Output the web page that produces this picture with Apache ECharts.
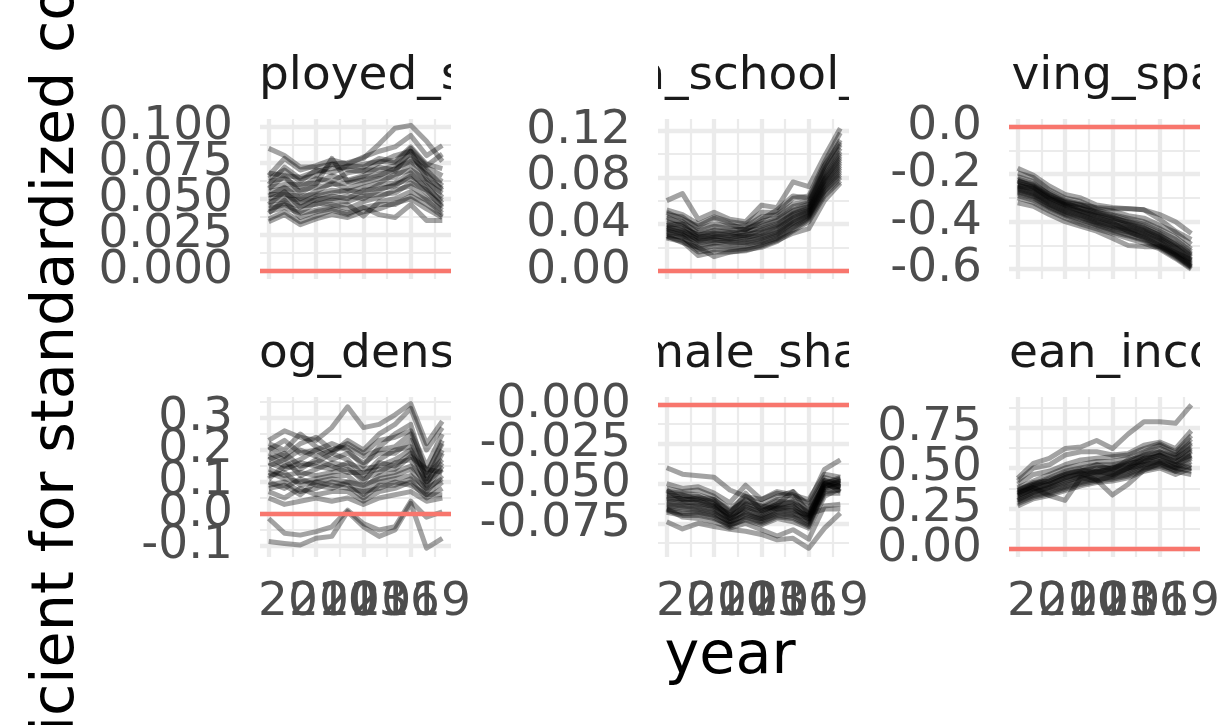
<!DOCTYPE html>
<html><head><meta charset="utf-8">
<script src="https://cdn.jsdelivr.net/npm/echarts@6/dist/echarts.min.js"></script>
<style>html,body{margin:0;padding:0;background:#fff}#c{width:1229px;height:725px}</style>
</head><body><div id="c"></div>
<script>
// ---------------- DATA ----------------
const years = [2008,2009,2010,2011,2012,2013,2014,2015,2016,2017,2018,2019];
const xMajorBreaks = [2008, 2011, 2014, 2017];
const xMinorBreaks = [2009.5, 2012.5, 2015.5, 2018.5];
const xTickValues = [2010, 2013, 2016, 2019];
const xTickLabels = ["2010", "2013", "2016", "2019"];

const panelTitles = ["unemployed_share", "main_school_share", "living_space", "log_density", "female_share", "mean_income"];
const yAxisTitle = "coefficient for standardized covariate";
const xAxisTitle = "year";

const unemployedShare = [
 [0.085,0.080,0.072,0.072,0.074,0.075,0.078,0.088,0.099,0.101,0.090,0.076],
 [0.066,0.078,0.070,0.073,0.077,0.074,0.079,0.083,0.086,0.094,0.080,0.087],
 [0.064,0.070,0.062,0.070,0.068,0.073,0.072,0.078,0.076,0.086,0.074,0.071],
 [0.060,0.072,0.064,0.066,0.074,0.070,0.069,0.075,0.080,0.083,0.072,0.066],
 [0.062,0.064,0.058,0.064,0.062,0.068,0.070,0.070,0.073,0.081,0.068,0.062],
 [0.058,0.060,0.060,0.061,0.066,0.063,0.066,0.072,0.070,0.078,0.070,0.059],
 [0.057,0.066,0.054,0.060,0.078,0.062,0.065,0.067,0.069,0.083,0.064,0.057],
 [0.055,0.057,0.056,0.058,0.060,0.061,0.063,0.066,0.071,0.076,0.067,0.056],
 [0.052,0.058,0.050,0.055,0.061,0.057,0.061,0.064,0.065,0.074,0.061,0.054],
 [0.053,0.053,0.052,0.053,0.056,0.055,0.058,0.061,0.067,0.070,0.063,0.051],
 [0.050,0.054,0.047,0.052,0.054,0.056,0.054,0.060,0.061,0.068,0.057,0.049],
 [0.048,0.050,0.049,0.049,0.052,0.050,0.056,0.057,0.059,0.066,0.059,0.047],
 [0.046,0.055,0.044,0.050,0.050,0.052,0.050,0.056,0.060,0.064,0.054,0.045],
 [0.045,0.047,0.045,0.046,0.049,0.048,0.052,0.053,0.054,0.061,0.056,0.044],
 [0.043,0.046,0.041,0.047,0.046,0.043,0.048,0.051,0.056,0.059,0.050,0.042],
 [0.041,0.044,0.040,0.042,0.045,0.046,0.038,0.048,0.050,0.055,0.049,0.040],
 [0.040,0.049,0.037,0.041,0.043,0.040,0.044,0.046,0.046,0.052,0.046,0.038],
 [0.036,0.041,0.034,0.038,0.042,0.039,0.044,0.039,0.037,0.046,0.035,0.035],
 [0.034,0.039,0.032,0.036,0.039,0.037,0.041,0.043,0.047,0.050,0.043,0.037],
 [0.068,0.066,0.065,0.069,0.071,0.072,0.074,0.076,0.075,0.085,0.073,0.081]
];
const schoolShare = [
 [0.060,0.066,0.044,0.050,0.044,0.042,0.056,0.054,0.076,0.072,0.098,0.122],
 [0.052,0.048,0.040,0.046,0.042,0.040,0.050,0.050,0.062,0.064,0.093,0.118],
 [0.048,0.046,0.036,0.040,0.038,0.038,0.046,0.048,0.057,0.060,0.090,0.112],
 [0.046,0.040,0.034,0.038,0.036,0.035,0.042,0.046,0.055,0.058,0.087,0.108],
 [0.044,0.042,0.032,0.035,0.034,0.036,0.040,0.044,0.052,0.057,0.085,0.105],
 [0.042,0.038,0.030,0.034,0.033,0.032,0.038,0.043,0.051,0.055,0.083,0.102],
 [0.040,0.036,0.031,0.032,0.030,0.034,0.036,0.040,0.049,0.054,0.081,0.100],
 [0.039,0.040,0.028,0.031,0.032,0.030,0.035,0.039,0.048,0.053,0.079,0.098],
 [0.038,0.034,0.029,0.030,0.028,0.031,0.033,0.038,0.047,0.052,0.078,0.096],
 [0.037,0.035,0.026,0.029,0.030,0.028,0.032,0.036,0.045,0.051,0.077,0.094],
 [0.036,0.032,0.027,0.028,0.027,0.029,0.030,0.035,0.044,0.050,0.075,0.092],
 [0.035,0.033,0.024,0.026,0.026,0.027,0.029,0.033,0.043,0.049,0.074,0.090],
 [0.034,0.030,0.025,0.027,0.024,0.025,0.028,0.032,0.041,0.048,0.072,0.088],
 [0.033,0.031,0.022,0.024,0.025,0.024,0.026,0.031,0.040,0.047,0.071,0.086],
 [0.032,0.028,0.020,0.023,0.022,0.023,0.025,0.030,0.039,0.046,0.069,0.084],
 [0.030,0.029,0.018,0.021,0.020,0.021,0.024,0.028,0.037,0.045,0.068,0.082],
 [0.029,0.026,0.016,0.018,0.018,0.019,0.022,0.027,0.035,0.044,0.066,0.080],
 [0.028,0.025,0.013,0.016,0.016,0.018,0.020,0.025,0.034,0.042,0.064,0.077],
 [0.030,0.024,0.020,0.012,0.016,0.017,0.021,0.026,0.032,0.036,0.060,0.075],
 [0.050,0.044,0.038,0.045,0.040,0.035,0.044,0.052,0.064,0.062,0.090,0.110]
];
const livingSpace = [
 [-0.175,-0.205,-0.250,-0.285,-0.300,-0.330,-0.340,-0.345,-0.350,-0.370,-0.400,-0.450],
 [-0.195,-0.215,-0.265,-0.300,-0.315,-0.345,-0.355,-0.375,-0.385,-0.415,-0.445,-0.495],
 [-0.210,-0.230,-0.275,-0.310,-0.325,-0.350,-0.370,-0.385,-0.400,-0.430,-0.465,-0.515],
 [-0.220,-0.240,-0.285,-0.315,-0.330,-0.360,-0.375,-0.395,-0.410,-0.440,-0.475,-0.525],
 [-0.230,-0.250,-0.290,-0.325,-0.340,-0.365,-0.385,-0.400,-0.420,-0.450,-0.490,-0.535],
 [-0.240,-0.255,-0.300,-0.330,-0.345,-0.370,-0.390,-0.410,-0.430,-0.455,-0.500,-0.545],
 [-0.245,-0.265,-0.305,-0.335,-0.355,-0.375,-0.395,-0.415,-0.435,-0.465,-0.505,-0.550],
 [-0.250,-0.270,-0.310,-0.340,-0.360,-0.385,-0.400,-0.420,-0.440,-0.470,-0.510,-0.560],
 [-0.255,-0.275,-0.315,-0.345,-0.365,-0.390,-0.410,-0.425,-0.445,-0.475,-0.520,-0.565],
 [-0.260,-0.280,-0.320,-0.350,-0.370,-0.395,-0.415,-0.430,-0.450,-0.480,-0.525,-0.570],
 [-0.265,-0.285,-0.325,-0.355,-0.375,-0.400,-0.420,-0.435,-0.455,-0.485,-0.530,-0.575],
 [-0.270,-0.290,-0.330,-0.360,-0.380,-0.405,-0.425,-0.440,-0.460,-0.490,-0.535,-0.580],
 [-0.275,-0.295,-0.335,-0.365,-0.385,-0.410,-0.430,-0.445,-0.465,-0.500,-0.540,-0.585],
 [-0.280,-0.300,-0.340,-0.370,-0.390,-0.415,-0.435,-0.455,-0.475,-0.505,-0.545,-0.590],
 [-0.290,-0.310,-0.345,-0.375,-0.400,-0.420,-0.445,-0.460,-0.480,-0.510,-0.550,-0.595],
 [-0.300,-0.320,-0.355,-0.385,-0.410,-0.430,-0.450,-0.470,-0.490,-0.515,-0.555,-0.600],
 [-0.320,-0.335,-0.370,-0.400,-0.420,-0.440,-0.470,-0.500,-0.505,-0.505,-0.540,-0.590],
 [-0.230,-0.245,-0.285,-0.320,-0.330,-0.340,-0.345,-0.345,-0.350,-0.390,-0.440,-0.475],
 [-0.250,-0.260,-0.300,-0.330,-0.355,-0.380,-0.405,-0.440,-0.470,-0.500,-0.530,-0.560],
 [-0.225,-0.255,-0.295,-0.320,-0.345,-0.360,-0.380,-0.405,-0.425,-0.460,-0.495,-0.540]
];
const logDensity = [
 [0.230,0.260,0.240,0.230,0.270,0.335,0.270,0.280,0.310,0.345,0.220,0.290],
 [0.220,0.200,0.250,0.210,0.190,0.230,0.200,0.250,0.280,0.330,0.200,0.270],
 [0.200,0.230,0.190,0.200,0.220,0.200,0.150,0.210,0.250,0.280,0.120,0.230],
 [0.190,0.170,0.200,0.180,0.200,0.210,0.180,0.200,0.210,0.250,0.130,0.220],
 [0.180,0.150,0.170,0.200,0.170,0.190,0.160,0.190,0.190,0.230,0.110,0.200],
 [0.170,0.190,0.150,0.160,0.190,0.170,0.120,0.170,0.200,0.210,0.090,0.190],
 [0.160,0.140,0.160,0.150,0.140,0.160,0.140,0.150,0.170,0.200,0.120,0.170],
 [0.150,0.170,0.120,0.140,0.160,0.150,0.100,0.160,0.150,0.190,0.100,0.160],
 [0.140,0.120,0.130,0.120,0.130,0.140,0.110,0.130,0.160,0.170,0.080,0.150],
 [0.130,0.110,0.100,0.110,0.120,0.120,0.080,0.120,0.130,0.150,0.100,0.140],
 [0.120,0.130,0.090,0.100,0.110,0.100,0.090,0.110,0.120,0.140,0.070,0.120],
 [0.100,0.080,0.110,0.090,0.080,0.100,0.060,0.100,0.110,0.120,0.080,0.110],
 [0.090,0.100,0.070,0.080,0.100,0.090,0.050,0.090,0.090,0.110,0.060,0.100],
 [0.070,0.050,0.080,0.060,0.070,0.070,0.040,0.070,0.080,0.100,0.050,0.080],
 [0.050,0.030,0.040,0.050,0.040,0.050,0.030,0.050,0.060,0.070,0.040,0.050],
 [0.210,0.180,0.220,0.240,0.200,0.220,0.190,0.230,0.240,0.260,0.150,0.250],
 [0.110,0.150,0.140,0.170,0.150,0.130,0.130,0.140,0.140,0.180,0.140,0.130],
 [0.080,0.090,0.060,0.100,0.090,0.080,0.070,0.080,0.100,0.090,0.060,0.060],
 [-0.014,-0.060,-0.066,-0.055,-0.040,0.012,-0.030,-0.050,-0.040,0.040,-0.010,0.007],
 [-0.086,-0.092,-0.097,-0.076,-0.070,0.007,-0.040,-0.070,-0.050,0.033,-0.107,-0.076]
];
const femaleShare = [
 [-0.040,-0.044,-0.045,-0.046,-0.054,-0.058,-0.060,-0.056,-0.058,-0.062,-0.041,-0.035],
 [-0.050,-0.053,-0.052,-0.056,-0.062,-0.051,-0.060,-0.055,-0.057,-0.060,-0.044,-0.046],
 [-0.053,-0.055,-0.054,-0.058,-0.066,-0.058,-0.063,-0.058,-0.055,-0.064,-0.046,-0.049],
 [-0.055,-0.056,-0.057,-0.060,-0.068,-0.060,-0.065,-0.060,-0.060,-0.066,-0.048,-0.050],
 [-0.057,-0.058,-0.058,-0.062,-0.070,-0.062,-0.066,-0.061,-0.062,-0.068,-0.050,-0.046],
 [-0.058,-0.060,-0.060,-0.061,-0.072,-0.063,-0.068,-0.063,-0.063,-0.070,-0.048,-0.052],
 [-0.060,-0.059,-0.061,-0.064,-0.071,-0.064,-0.069,-0.064,-0.065,-0.071,-0.052,-0.049],
 [-0.061,-0.062,-0.062,-0.065,-0.073,-0.066,-0.070,-0.065,-0.066,-0.072,-0.050,-0.053],
 [-0.062,-0.063,-0.064,-0.066,-0.074,-0.067,-0.071,-0.066,-0.064,-0.073,-0.054,-0.051],
 [-0.063,-0.064,-0.065,-0.067,-0.072,-0.068,-0.072,-0.067,-0.068,-0.074,-0.049,-0.055],
 [-0.064,-0.065,-0.066,-0.068,-0.075,-0.069,-0.073,-0.068,-0.069,-0.072,-0.052,-0.048],
 [-0.065,-0.066,-0.067,-0.069,-0.074,-0.070,-0.072,-0.069,-0.070,-0.075,-0.055,-0.054],
 [-0.066,-0.068,-0.068,-0.070,-0.076,-0.071,-0.074,-0.070,-0.071,-0.076,-0.053,-0.050],
 [-0.067,-0.069,-0.069,-0.071,-0.077,-0.072,-0.075,-0.071,-0.072,-0.077,-0.056,-0.056],
 [-0.068,-0.070,-0.070,-0.072,-0.076,-0.073,-0.076,-0.072,-0.074,-0.078,-0.058,-0.053],
 [-0.066,-0.071,-0.072,-0.074,-0.078,-0.075,-0.079,-0.083,-0.079,-0.085,-0.064,-0.063],
 [-0.074,-0.0785,-0.075,-0.077,-0.0787,-0.080,-0.082,-0.0854,-0.0844,-0.0907,-0.078,-0.0686],
 [-0.059,-0.061,-0.063,-0.064,-0.069,-0.056,-0.067,-0.063,-0.055,-0.069,-0.050,-0.047],
 [-0.056,-0.057,-0.060,-0.063,-0.070,-0.065,-0.067,-0.064,-0.061,-0.069,-0.066,-0.066],
 [-0.054,-0.060,-0.059,-0.060,-0.067,-0.061,-0.064,-0.066,-0.067,-0.070,-0.051,-0.052]
];
const meanIncome = [
 [0.436,0.529,0.560,0.620,0.630,0.670,0.620,0.710,0.786,0.786,0.776,0.889],
 [0.420,0.500,0.520,0.580,0.600,0.600,0.580,0.590,0.640,0.660,0.620,0.730],
 [0.400,0.460,0.480,0.520,0.550,0.560,0.570,0.580,0.620,0.650,0.600,0.700],
 [0.380,0.420,0.460,0.500,0.520,0.540,0.540,0.560,0.600,0.640,0.590,0.680],
 [0.370,0.400,0.440,0.480,0.500,0.520,0.520,0.540,0.590,0.620,0.580,0.660],
 [0.360,0.410,0.420,0.460,0.480,0.500,0.510,0.530,0.580,0.600,0.570,0.650],
 [0.350,0.390,0.410,0.450,0.470,0.490,0.500,0.520,0.560,0.590,0.560,0.630],
 [0.340,0.380,0.400,0.440,0.460,0.480,0.490,0.510,0.550,0.580,0.540,0.610],
 [0.330,0.370,0.390,0.430,0.450,0.470,0.480,0.500,0.540,0.560,0.530,0.600],
 [0.320,0.360,0.380,0.420,0.440,0.460,0.470,0.490,0.530,0.550,0.520,0.580],
 [0.310,0.350,0.370,0.400,0.430,0.450,0.460,0.480,0.520,0.540,0.510,0.570],
 [0.300,0.340,0.360,0.390,0.420,0.440,0.450,0.470,0.510,0.530,0.500,0.560],
 [0.290,0.330,0.350,0.380,0.410,0.430,0.440,0.460,0.500,0.520,0.490,0.540],
 [0.280,0.320,0.340,0.370,0.400,0.420,0.430,0.450,0.490,0.510,0.480,0.520],
 [0.265,0.310,0.330,0.360,0.390,0.410,0.420,0.440,0.480,0.500,0.460,0.500],
 [0.350,0.380,0.330,0.300,0.440,0.420,0.450,0.500,0.520,0.540,0.500,0.480],
 [0.330,0.370,0.400,0.440,0.470,0.426,0.333,0.400,0.488,0.530,0.480,0.460],
 [0.360,0.400,0.420,0.470,0.480,0.520,0.490,0.550,0.570,0.600,0.560,0.620],
 [0.300,0.350,0.380,0.410,0.450,0.480,0.460,0.500,0.560,0.570,0.540,0.580],
 [0.340,0.390,0.430,0.460,0.490,0.470,0.500,0.530,0.540,0.580,0.520,0.500]
];

const yMajor = [
 [0, 0.025, 0.05, 0.075, 0.1],
 [0, 0.04, 0.08, 0.12],
 [-0.6, -0.4, -0.2, 0],
 [-0.1, 0, 0.1, 0.2, 0.3],
 [-0.075, -0.05, -0.025, 0],
 [0, 0.25, 0.5, 0.75]
];
const yMinor = [
 [0.0125, 0.0375, 0.0625, 0.0875],
 [0.02, 0.06, 0.10],
 [-0.5, -0.3, -0.1],
 [-0.05, 0.05, 0.15, 0.25, 0.35],
 [-0.0875, -0.0625, -0.0375, -0.0125],
 [0.125, 0.375, 0.625, 0.875]
];
const yTickLabels = [
 ["0.000", "0.025", "0.050", "0.075", "0.100"],
 ["0.00", "0.04", "0.08", "0.12"],
 ["-0.6", "-0.4", "-0.2", "0.0"],
 ["-0.1", "0.0", "0.1", "0.2", "0.3"],
 ["-0.075", "-0.050", "-0.025", "0.000"],
 ["0.00", "0.25", "0.50", "0.75"]
];
const yLimits = [
 [-0.0057, 0.1054],
 [-0.0071, 0.1299],
 [-0.6413, 0.0324],
 [-0.1344, 0.3656],
 [-0.0962, 0.0046],
 [-0.0494, 0.9383]
];
const referenceLine = 0;
const panelSeries = [unemployedShare, schoolShare, livingSpace, logDensity, femaleShare, meanIncome];

// ---------------- LAYOUT ----------------
const FONT = '"DejaVu Sans"';
const AX = 47, TITLE = 58.75;
const PW = 191, PH = 160;
const colLeft = [260, 658, 1009];
const rowTop = [119, 397];
const xMin = 2007.45, xMax = 2019.55;
const stripAnchor = [ {idx:4, x:259}, {idx:4, x:665}, {idx:2, x:1011.5}, {idx:1, x:259}, {idx:3, x:684}, {idx:1, x:1009} ];

const mctx = document.createElement('canvas').getContext('2d');
function measure(s, size){ mctx.font = size + 'px ' + FONT; return mctx.measureText(s).width; }

const option = {animation:false, backgroundColor:'#ffffff', grid:[], xAxis:[], yAxis:[], series:[], graphic:[]};
function addGrid(r){ option.grid.push(Object.assign({show:false, containLabel:false, outerBoundsMode:'none'}, r)); return option.grid.length-1; }
function addX(o){ option.xAxis.push(o); return option.xAxis.length-1; }
function addY(o){ option.yAxis.push(o); return option.yAxis.length-1; }
const hidden = {axisLine:{show:false}, axisTick:{show:false}, axisLabel:{show:false}, splitLine:{show:false}};
const labelStyle = {color:'#4D4D4D', fontSize:AX, fontFamily:FONT, showMinLabel:true, showMaxLabel:true, hideOverlap:false};

for (let p = 0; p < 6; p++) {
  const left = colLeft[p % 3], top = rowTop[Math.floor(p / 3)];
  const g = addGrid({left:left, top:top, width:PW, height:PH});
  const [ymin, ymax] = yLimits[p];
  const xa = addX({type:'value', gridIndex:g, min:xMin, max:xMax, position:'bottom', axisLine:{show:false},
    axisTick:{show:false, customValues:xMajorBreaks}, axisLabel:{show:false},
    splitLine:{show:true, lineStyle:{color:'#EBEBEB', width:4.3}}});
  addX({type:'value', gridIndex:g, min:xMin, max:xMax, position:'top', axisLine:{show:false},
    axisTick:{show:false, customValues:xMinorBreaks}, axisLabel:{show:false},
    splitLine:{show:true, lineStyle:{color:'#EBEBEB', width:2.2}}});
  const majors = yMajor[p], labels = yTickLabels[p];
  const ya = addY({type:'value', gridIndex:g, min:ymin, max:ymax, position:'left', axisLine:{show:false},
    axisTick:{show:false, customValues:majors}, axisLabel:{show:false},
    splitLine:{show:true, lineStyle:{color:'#EBEBEB', width:4.3}}});
  addY({type:'value', gridIndex:g, min:ymin, max:ymax, position:'right', axisLine:{show:false},
    axisTick:{show:false, customValues:yMinor[p]}, axisLabel:{show:false},
    splitLine:{show:true, lineStyle:{color:'#EBEBEB', width:2.2}}});
  // one label axis per tick label so none gets auto-hidden
  majors.forEach(function(mv, k){
    addY({type:'value', gridIndex:g, min:ymin, max:ymax, position:'left', axisLine:{show:false},
      axisTick:{show:false, customValues:[mv]}, splitLine:{show:false},
      axisLabel:Object.assign({show:true, customValues:[mv], margin:27, formatter:function(){ return labels[k]; }}, labelStyle)});
  });

  panelSeries[p].forEach(function(vals){
    option.series.push({type:'line', xAxisIndex:xa, yAxisIndex:ya, silent:true, showSymbol:false, symbol:'none',
      data: years.map(function(yr,k){ return [yr, vals[k]]; }),
      lineStyle:{color:'rgba(0,0,0,0.36)', width:5, cap:'butt', join:'round'}, z:3});
  });
  option.series.push({type:'line', xAxisIndex:xa, yAxisIndex:ya, silent:true, data:[], z:4,
    markLine:{silent:true, symbol:'none', label:{show:false}, animation:false,
      lineStyle:{color:'#F8766D', width:4.3, type:'solid', opacity:1}, data:[{yAxis:referenceLine}]}});

  // strip (clipped text)
  const sg = addGrid({left:left, top:top-76, width:PW, height:72});
  const sx = addX(Object.assign({type:'value', gridIndex:sg, min:0, max:1}, hidden));
  const sy = addY(Object.assign({type:'value', gridIndex:sg, min:0, max:1}, hidden));
  const name = panelTitles[p];
  const anc = stripAnchor[p];
  const tx = anc.x - measure(name.slice(0, anc.idx), AX);
  const ty = top - 28.5 - 0.297 * AX;
  option.series.push({type:'custom', xAxisIndex:sx, yAxisIndex:sy, clip:true, silent:true, data:[[0.5,0.5]],
    renderItem:function(){ return {type:'text', x:tx, y:ty, style:{text:name, fill:'#1A1A1A', font:AX+'px '+FONT,
      textAlign:'left', align:'left', textVerticalAlign:'middle', verticalAlign:'middle'}}; }});

  // x tick labels on bottom row
  if (p >= 3) {
    const lg = addGrid({left:left, top:top, width:PW, height:PH});
    const cw = measure('0', AX);
    const step = 61 - cw;            // label-to-label offset seen in the reference
    const pxPer = step / 3;
    const firstCenter = 2 * cw - 2;
    const lmin = xTickValues[0] - firstCenter / pxPer;
    const lmax = lmin + PW / pxPer;
    xTickValues.forEach(function(tv, k){
      addX({type:'value', gridIndex:lg, min:lmin, max:lmax, position:'bottom', axisLine:{show:false}, axisTick:{show:false, customValues:[tv]},
        splitLine:{show:false},
        axisLabel:Object.assign({show:true, customValues:[tv], margin:22, formatter:function(){ return xTickLabels[k]; }}, labelStyle)});
    });
    addY(Object.assign({type:'value', gridIndex:lg, min:0, max:1}, hidden));
  }
}

// axis titles
const ytW = measure(yAxisTitle, TITLE);
const ytCenter = 716 + measure('coeffi', TITLE) - ytW / 2;
option.graphic.push({type:'text', x:57.6, y:ytCenter, rotation:Math.PI/2, silent:true,
  style:{text:yAxisTitle, fill:'#000000', font:TITLE+'px '+FONT, textAlign:'center', align:'center', textVerticalAlign:'middle', verticalAlign:'middle'}});
option.graphic.push({type:'text', x:730, y:657.5, silent:true,
  style:{text:xAxisTitle, fill:'#000000', font:TITLE+'px '+FONT, textAlign:'center', align:'center', textVerticalAlign:'middle', verticalAlign:'middle'}});

const chart = echarts.init(document.getElementById('c'), null, {renderer:'canvas', width:1229, height:725});
chart.setOption(option);
</script>
</body></html>
